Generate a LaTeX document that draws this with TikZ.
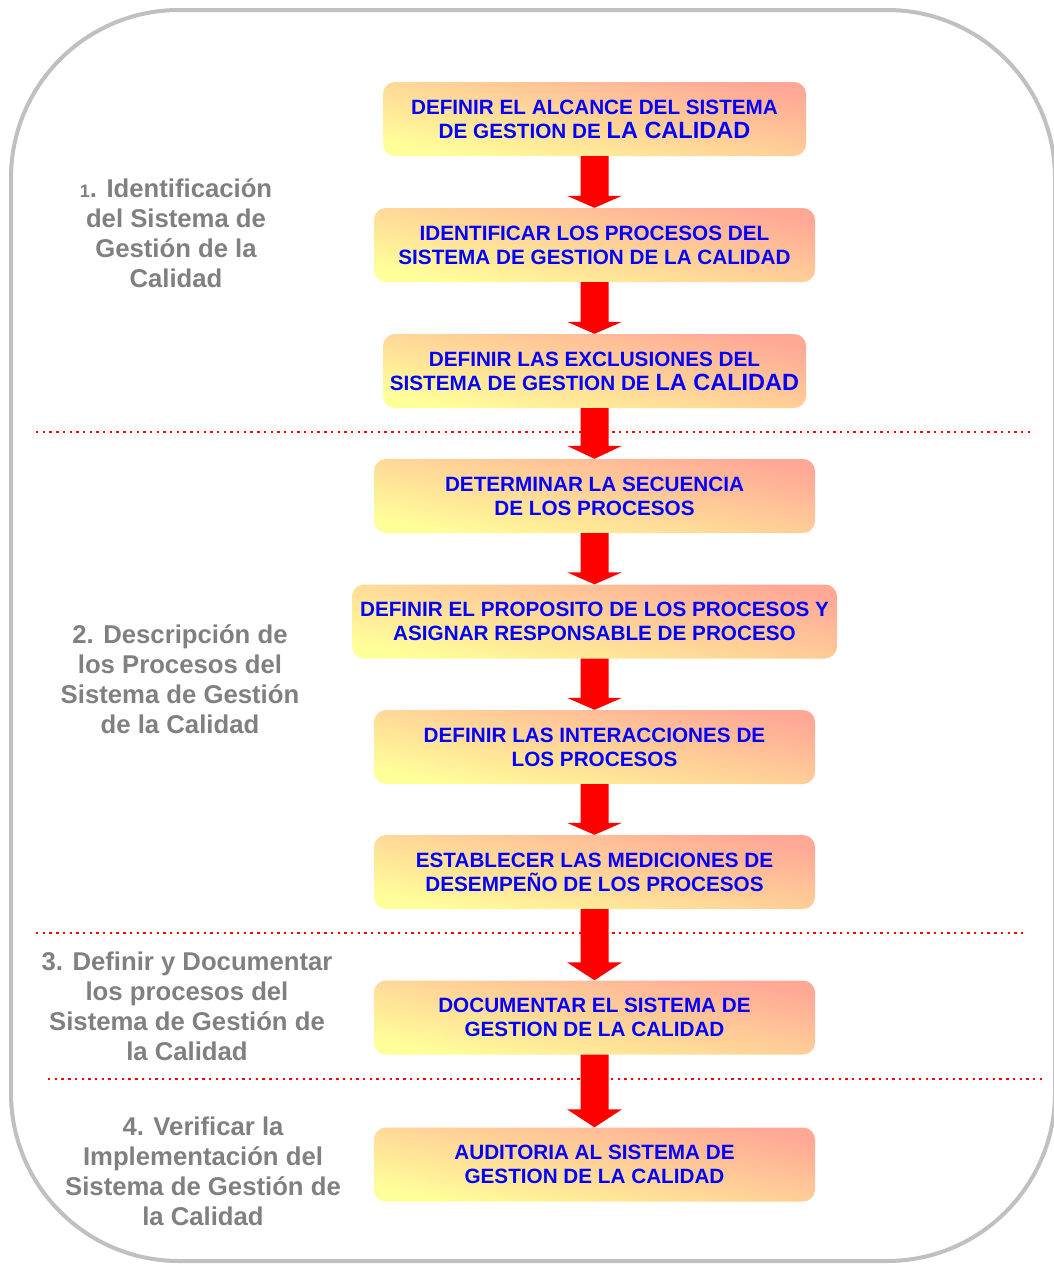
\documentclass[tikz,border=0pt]{standalone}
\usepackage{fontspec}
\setmainfont{Liberation Sans}
\usetikzlibrary{calc}
\definecolor{lyellow}{HTML}{FFFF99}
\definecolor{salmon}{HTML}{FFA896}
\definecolor{framegray}{HTML}{C0C0C0}
\definecolor{labelgray}{HTML}{808080}
\definecolor{boxblue}{HTML}{0000FF}
\newcommand{\blockarrow}[3]{%
  \fill[red] ($(#1.south)+(-14,0)$) -- ($(#2.north)+(-14,-#3)$) -- ($(#2.north)+(-27.5,-#3)$) -- (#2.north)
    -- ($(#2.north)+(27.5,-#3)$) -- ($(#2.north)+(14,-#3)$) -- ($(#1.south)+(14,0)$) -- cycle;}
\newcommand{\bigcal}{{\fontsize{23.5}{24}\selectfont LA CALIDAD}}
\begin{document}
\begin{tikzpicture}[x=1pt,y=-1pt,
  stepbox/.style={rounded corners=12pt, top color=salmon, bottom color=lyellow, shading angle=-12,
    minimum height=74pt, minimum width=441pt, align=center, inner sep=0pt,
    font=\fontsize{20.7}{24}\selectfont\bfseries, text=boxblue},
  grouplabel/.style={align=center, text=labelgray, font=\fontsize{25.7}{30}\selectfont\bfseries, inner sep=0pt},
  sepline/.style={red, line width=2.4pt, dash pattern=on 2.4pt off 4.3pt}
]
\useasboundingbox (0,0) rectangle (1053,1264);
\fill[white] (0,0) rectangle (1053,1264);
\draw[framegray, line width=4pt, rounded corners=168pt] (11,10) rectangle (1055,1261);

\node[stepbox, minimum width=423pt] (b1) at (594.5,119) {DEFINIR EL ALCANCE DEL SISTEMA\\DE GESTION DE \bigcal};
\node[stepbox] (b2) at (594.5,245) {IDENTIFICAR LOS PROCESOS DEL\\SISTEMA DE GESTION DE LA CALIDAD};
\node[stepbox, minimum width=423pt] (b3) at (594.5,371) {DEFINIR LAS EXCLUSIONES DEL\\SISTEMA DE GESTION DE \bigcal};
\node[stepbox] (b4) at (594.5,496) {DETERMINAR LA SECUENCIA\\DE LOS PROCESOS};
\node[stepbox, minimum width=485pt] (b5) at (594.5,621.5) {DEFINIR EL PROPOSITO DE LOS PROCESOS Y\\ASIGNAR RESPONSABLE DE PROCESO};
\node[stepbox] (b6) at (594.5,747) {DEFINIR LAS INTERACCIONES DE\\LOS PROCESOS};
\node[stepbox] (b7) at (594.5,872) {ESTABLECER LAS MEDICIONES DE\\DESEMPEÑO DE LOS PROCESOS};
\node[stepbox] (b8) at (594.5,1017.5) {DOCUMENTAR EL SISTEMA DE\\GESTION DE LA CALIDAD};
\node[stepbox] (b9) at (594.5,1164.5) {AUDITORIA AL SISTEMA DE\\GESTION DE LA CALIDAD};

\draw[sepline] (36,432) -- (1030,432);
\draw[sepline] (36,933) -- (1027,933);
\draw[sepline] (48,1079) -- (1042,1079);

\blockarrow{b1}{b2}{12}
\blockarrow{b2}{b3}{12}
\blockarrow{b3}{b4}{13}
\blockarrow{b4}{b5}{12}
\blockarrow{b5}{b6}{12}
\blockarrow{b6}{b7}{12}
\blockarrow{b7}{b8}{18}
\blockarrow{b8}{b9}{18}

\node[grouplabel] (l1) at (176,233) {{\fontsize{18}{30}\selectfont 1}. Identificación\\del Sistema de\\Gestión de la\\Calidad};
\node[grouplabel] (l2) at (180,679) {2. Descripción de\\los Procesos del\\Sistema de Gestión\\de la Calidad};
\node[grouplabel] (l3) at (187,1006) {3. Definir y Documentar\\los procesos del\\Sistema de Gestión de\\la Calidad};
\node[grouplabel] (l4) at (203,1171) {4. Verificar la\\Implementación del\\Sistema de Gestión de\\la Calidad};
\end{tikzpicture}
\end{document}
